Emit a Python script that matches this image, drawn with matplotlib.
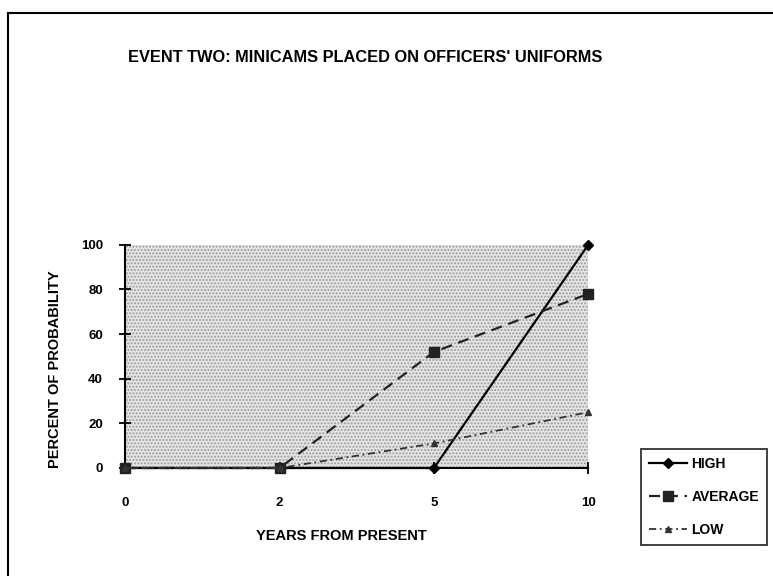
import matplotlib
matplotlib.use("Agg")
import matplotlib.pyplot as plt
from matplotlib.lines import Line2D
from matplotlib.patches import Rectangle

years = ["0", "2", "5", "10"]
high = [0, 0, 0, 100]
average = [0, 0, 52, 78]
low = [0, 0, 11, 25]

plt.rcParams['font.family'] = ['Liberation Sans', 'DejaVu Sans']
plt.rcParams['font.weight'] = 'bold'

fig = plt.figure(figsize=(7.73, 5.76), dpi=100)
ax = fig.add_axes([0.162, 0.1875, 0.599, 0.3875])

# stippled grey plot area
ax.set_facecolor('#e6e6e6')
ax.add_patch(Rectangle((0, 0), 1, 1, transform=ax.transAxes, facecolor='none',
                       edgecolor='#9a9a9a', hatch='.....', lw=0, zorder=0))

x = range(len(years))
ax.plot(x, high, color='black', lw=1.6, ls='-', marker='D', ms=5, label='HIGH',
        zorder=3, clip_on=False)
ax.plot(x, average, color='#222222', lw=1.6, ls=(0, (5, 3)), marker='s', ms=7,
        label='AVERAGE', zorder=3, clip_on=False)
ax.plot(x, low, color='#333333', lw=1.3, ls=(0, (4, 2, 1, 2)), marker='^', ms=5,
        label='LOW', zorder=3, clip_on=False)

ax.set_xlim(0, 3)
ax.set_ylim(0, 100)
ax.set_xticks(list(x))
ax.set_xticklabels(years)
ax.set_yticks([0, 20, 40, 60, 80, 100])
ax.tick_params(axis='both', direction='inout', length=8, width=1.3, labelsize=9.5)
ax.tick_params(axis='x', pad=17)
ax.tick_params(axis='y', pad=12)
for s in ['top', 'right']:
    ax.spines[s].set_visible(False)
for s in ['left', 'bottom']:
    ax.spines[s].set_linewidth(1.5)

ax.set_xlabel('YEARS FROM PRESENT', fontsize=10.5, fontweight='bold')
ax.xaxis.set_label_coords(0.467, -0.275)
ax.set_ylabel('PERCENT OF PROBABILITY', fontsize=10.5, fontweight='bold')
ax.yaxis.set_label_coords(-0.137, 0.444)

fig.text(0.473, 0.9, "EVENT TWO: MINICAMS PLACED ON OFFICERS' UNIFORMS",
         ha='center', va='center', fontsize=11.8, fontweight='bold')

leg = fig.legend(loc='upper left', bbox_to_anchor=(0.829, 0.221), fontsize=10,
                 frameon=True, fancybox=False, edgecolor='black', handlelength=2.7,
                 labelspacing=1.35, borderpad=0.6, handletextpad=0.35, borderaxespad=0)
leg.get_frame().set_linewidth(1.3)
for t in leg.get_texts():
    t.set_fontweight('bold')

# scanned page frame
fig.add_artist(Line2D([0.0103, 0.0103], [0.0, 0.977], color='black', lw=1.5))
fig.add_artist(Line2D([0.0103, 1.0], [0.977, 0.977], color='black', lw=1.5))

fig.savefig('out.png', dpi=100)
